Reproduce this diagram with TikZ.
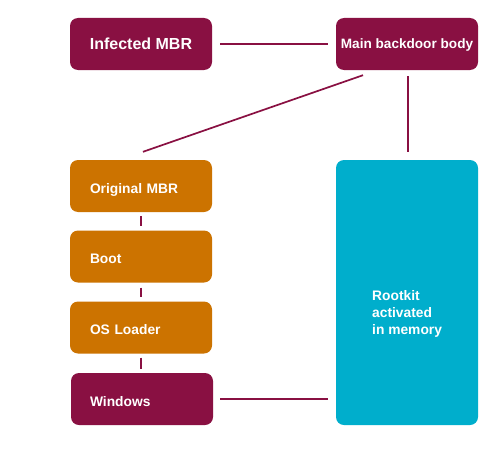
\documentclass[tikz,border=0pt]{standalone}
\usepackage{fontspec}
\setmainfont{Liberation Sans}
\definecolor{maroon}{HTML}{891042}
\definecolor{amber}{HTML}{CC7300}
\definecolor{teal}{HTML}{00AECC}
\tikzset{
  box/.style={rounded corners=8pt, minimum width=142pt, minimum height=52pt, inner sep=0pt, text=white},
  leftbox/.style={box, fill=amber, text width=102pt, inner xsep=20pt, align=left,
    font=\bfseries\fontsize{13.8}{16}\selectfont, text height=14pt, text depth=0pt},
  link/.style={draw=maroon, line width=1.7pt}
}
\begin{document}
\begin{tikzpicture}[x=1pt,y=-1pt]
\useasboundingbox[fill=white] (0,0) rectangle (500,460);
\node[box, fill=maroon, font=\bfseries\fontsize{16}{18}\selectfont, text height=11.4pt, text depth=0pt] (infected) at (141,44) {Infected MBR};
\node[box, fill=maroon, font=\bfseries\fontsize{13.6}{16}\selectfont, text height=9.7pt, text depth=0pt] (main) at (407,44) {Main backdoor body};
\node[leftbox] (orig) at (141,186) {Original MBR};
\node[leftbox] (boot) at (141,256.5) {Boot};
\node[leftbox] (loader) at (141,327.5) {OS Loader};
\node[leftbox, fill=maroon, inner xsep=19pt, text width=104pt] (windows) at (142,399) {Windows};
\node[box, fill=teal, minimum height=265pt] (rootkit) at (407,292.5) {};
\node[anchor=west, align=left, inner sep=0pt, text=white, font=\bfseries\fontsize{13.8}{17}\selectfont] (rootkittext) at (372,314) {Rootkit\\activated\\in memory};
\draw[link, shorten <=8pt, shorten >=8pt] (infected.east) -- (main.west);
\draw[link] ([xshift=-44pt,yshift=-5pt]main.south) -- ([xshift=2pt,yshift=8pt]orig.north);
\draw[link, shorten <=6pt, shorten >=8pt] ([xshift=1pt]main.south) -- ([xshift=1pt]rootkit.north);
\draw[link, shorten <=4pt, shorten >=4pt] (orig.south) -- (boot.north);
\draw[link, shorten <=5pt, shorten >=4pt] (boot.south) -- (loader.north);
\draw[link, shorten <=4pt, shorten >=4pt] (loader.south) -- (loader.south |- windows.north);
\draw[link, shorten <=7pt, shorten >=8pt] (windows.east) -- (windows.east -| rootkit.west);
\end{tikzpicture}
\end{document}
